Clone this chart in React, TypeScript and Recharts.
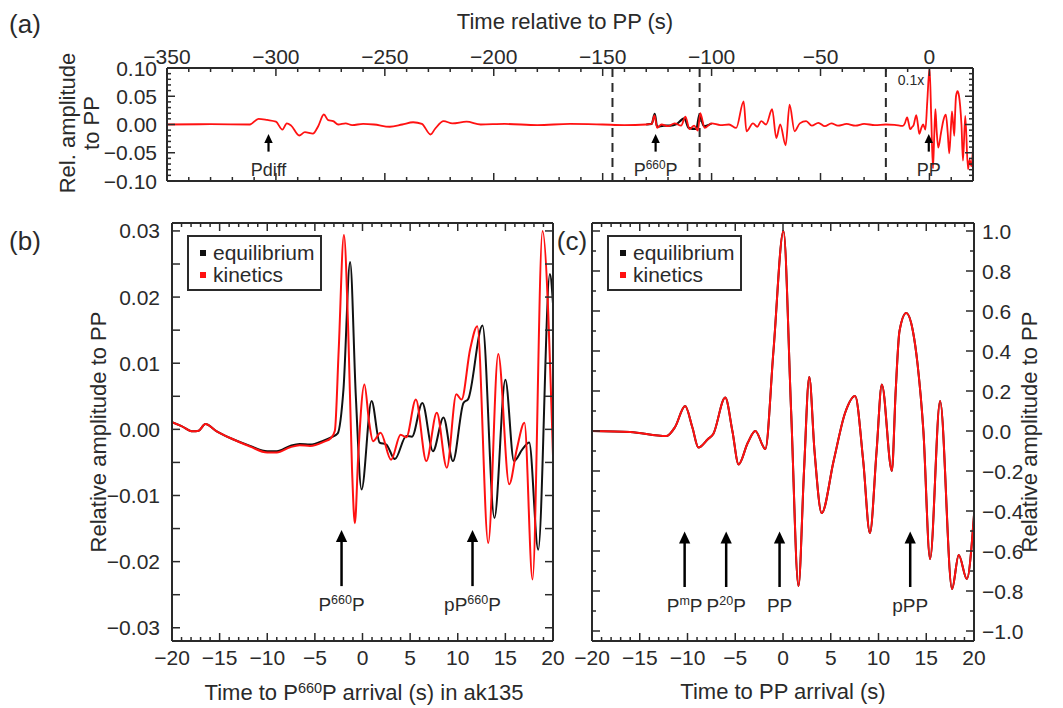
import React from 'react';
import { LineChart, Line, XAxis, YAxis, ReferenceLine } from 'recharts';

const FONT = '"Liberation Sans", Arial, Helvetica, sans-serif';
const INK = '#2a2a2a';
const RED = '#ff1111';
const BLACK = '#111111';

// ---------- Panel (a): full trace, time relative to PP (s) ----------
const aTime = [-350, -330, -312, -308, -304, -300, -297, -295, -293, -289.3, -286.7, -283, -280.6, -278, -276, -273.7, -271.4, -268, -265, -260, -255, -247.7, -242, -237, -233, -229, -227, -223, -219, -212.5, -206, -195, -180, -165, -150, -140, -130, -127.5, -126.2, -125, -123, -120, -117, -114, -112, -110.2, -108, -106.3, -105.2, -103.2, -100, -96, -92, -88.7, -85.3, -84, -81, -79, -77.2, -75, -72.2, -70.3, -68.5, -66, -64.2, -61.9, -59.5, -56.6, -54, -51, -48, -45, -42, -38, -34, -30, -25, -20];
const aKinetics = [0, 0.0005, 0, 0.01, 0.008, 0.005, -0.009, 0.002, -0.002, -0.0195, -0.0136, -0.016, -0.003, 0.0177, 0.0077, 0.006, 0, 0.002, -0.001, 0.001, 0, -0.004, 0, 0.004, 0.001, -0.0177, -0.008, 0.006, 0.002, 0.005, 0, 0.001, -0.001, 0.001, 0, -0.001, 0, 0.001, 0.016, -0.006, 0, -0.003, 0.002, -0.002, 0.014, -0.008, -0.002, -0.011, 0.02, -0.006, 0.002, -0.001, 0, -0.006, 0.041, -0.012, 0.002, -0.004, 0.006, 0, 0.027, -0.024, 0, -0.037, 0.035, -0.012, 0.002, 0.006, -0.002, 0.003, -0.003, 0.002, -0.002, 0.001, -0.002, 0.001, -0.001, 0];
const aEqTime = [-130, -127.5, -126.1, -125, -122, -119, -116, -112.5, -110.5, -107, -105.6, -103.5, -100];
const aEquilibrium = [0, 0.001, 0.019, -0.004, -0.002, -0.002, 0.001, 0.011, -0.006, -0.008, 0.017, -0.003, 0.002];
const aScaleLastWindow = 0.1; // "0.1x" window after -20 s
const aXTicks = [-350, -340, -330, -320, -310, -300, -290, -280, -270, -260, -250, -240, -230, -220, -210, -200, -190, -180, -170, -160, -150, -140, -130, -120, -110, -100, -90, -80, -70, -60, -50, -40, -30, -20, -10, 0, 10, 20];
const aYTicks = [-0.1, -0.09, -0.08, -0.07, -0.06, -0.05, -0.04, -0.03, -0.02, -0.01, 0, 0.01, 0.02, 0.03, 0.04, 0.05, 0.06, 0.07, 0.08, 0.09, 0.1];
const aDashed = [-145.5, -105.5, -20];
const aArrowTimes = [-303.4, -125.7, -0.3];

// ---------- Panel (b): around P660P ----------
const bKinTime = [-20, -19, -17.8, -17.2, -16.5, -15.3, -13.6, -11.8, -10, -9, -7.6, -6.6, -5.5, -4.1, -3.3, -2.9, -2.5, -1.95, -1.5, -1.1, -0.8, -0.45, 0.2, 0.7, 1.1, 1.9, 3.0, 4.0, 4.6, 5.6, 6.7, 7.8, 8.85, 9.85, 10.4, 11.3, 12.05, 13.2, 14.25, 15.4, 16.2, 17.0, 17.85, 18.9, 20];
const bKinetics = [0.0011, 0.0005, -0.0003, -0.0002, 0.0008, -0.0003, -0.0015, -0.0026, -0.0035, -0.0035, -0.0027, -0.0024, -0.0025, -0.0019, -0.0013, -0.0002, 0.012, 0.0294, 0.015, -0.006, -0.0142, -0.004, 0.0068, 0.001, -0.0018, -0.0005, -0.0046, -0.0008, -0.0012, 0.0045, -0.0048, 0.0025, -0.0058, 0.0053, 0.0045, 0.0121, 0.0156, -0.0172, 0.0114, -0.0083, -0.003, 0.001, -0.0227, 0.030, -0.004];
const bEqTime = [-20, -19, -17.8, -17.2, -16.5, -15.3, -13.6, -11.8, -10, -9, -7.6, -6.6, -5.5, -4.1, -3.3, -2.6, -2.0, -1.3, -0.7, -0.1, 0.95, 1.8, 2.5, 3.4, 4.6, 5.2, 6.28, 7.4, 8.5, 9.5, 10.6, 11.1, 12.6, 13.85, 15.0, 15.9, 16.8, 17.5, 18.45, 19.67, 20];
const bEquilibrium = [0.0011, 0.0005, -0.0003, -0.0002, 0.0008, -0.0003, -0.0015, -0.0025, -0.0033, -0.0033, -0.0025, -0.0022, -0.0023, -0.0017, -0.0012, -0.0006, 0.006, 0.0253, 0.005, -0.0091, 0.0043, -0.002, -0.0023, -0.0045, -0.001, -0.0011, 0.004, -0.0033, 0.0018, -0.0048, 0.004, 0.0046, 0.0157, -0.0134, 0.0075, -0.0048, -0.003, -0.002, -0.0182, 0.0235, 0.019];
const bYTicks = [-0.03, -0.025, -0.02, -0.015, -0.01, -0.005, 0, 0.005, 0.01, 0.015, 0.02, 0.025, 0.03];
const bArrowTimes = [-2.2, 11.55];

// ---------- Panel (c): around PP ----------
const cTime = [-20, -16, -12.2, -11.3, -10.25, -9.5, -8.85, -7.85, -7.3, -6.05, -5.3, -4.65, -3.7, -2.9, -1.85, -1.0, 0.05, 0.85, 1.62, 2.2, 2.75, 3.3, 4.05, 5.3, 6.5, 7.55, 8.4, 9.1, 9.8, 10.35, 11.4, 11.8, 12.2, 12.9, 13.6, 14.1, 14.7, 15.4, 16.45, 17.7, 18.4, 19.25, 20];
const cKinetics = [0, -0.005, -0.025, 0.02, 0.125, 0.02, -0.083, -0.04, -0.015, 0.167, 0, -0.167, -0.06, 0, -0.09, 0.4, 1.0, 0.1, -0.775, -0.2, 0.27, -0.1, -0.41, -0.15, 0.09, 0.175, -0.15, -0.51, -0.1, 0.233, -0.2, 0.2, 0.5, 0.59, 0.5, 0.33, 0, -0.64, 0.15, -0.79, -0.62, -0.74, -0.42];
const cEquilibrium = cKinetics; // overlaps exactly (hidden beneath red)
const cYTicks = [-1, -0.9, -0.8, -0.7, -0.6, -0.5, -0.4, -0.3, -0.2, -0.1, 0, 0.1, 0.2, 0.3, 0.4, 0.5, 0.6, 0.7, 0.8, 0.9, 1];
const cArrowTimes = [-10.3, -5.95, -0.36, 13.32];

const windowXTicks = [-20, -19, -18, -17, -16, -15, -14, -13, -12, -11, -10, -9, -8, -7, -6, -5, -4, -3, -2, -1, 0, 1, 2, 3, 4, 5, 6, 7, 8, 9, 10, 11, 12, 13, 14, 15, 16, 17, 18, 19, 20];

const rows = (ts: number[], vs: number[]) => ts.map((t, i) => ({ t, v: vs[i] }));
const aKinRows = [
  ...rows(aTime, aKinetics),
  ...rows(cTime, cKinetics).filter((r) => r.t > -20).map((r) => ({ t: r.t, v: r.v * aScaleLastWindow })),
];
const aEqRows = rows(aEqTime, aEquilibrium);
const bKinRows = rows(bKinTime, bKinetics);
const bEqRows = rows(bEqTime, bEquilibrium);
const cKinRows = rows(cTime, cKinetics);
const cEqRows = rows(cTime, cEquilibrium);

// ---------- helpers ----------
const fmt = (v: number, d: number) => (v < -1e-9 ? '\u2212' : '') + Math.abs(v).toFixed(d);

type Side = 'top' | 'bottom' | 'left' | 'right';
function makeTick(side: Side, step: number, labels: boolean, digits: number, gap: number, fontSize = 21, majorLen = 8, minorLen = 4) {
  return (props: any) => {
    const { x, y, payload } = props;
    const v = payload.value as number;
    const isMajor = Math.abs(v / step - Math.round(v / step)) < 1e-6;
    const len = isMajor ? majorLen : minorLen;
    let line: any = null;
    let text: any = null;
    const tp = { fontFamily: FONT, fontSize, fill: INK };
    if (side === 'bottom') {
      line = <line x1={x} y1={y} x2={x} y2={y - len} />;
      if (labels && isMajor) text = <text x={x} y={y + gap} textAnchor="middle" dominantBaseline="central" {...tp}>{fmt(v, digits)}</text>;
    } else if (side === 'top') {
      line = <line x1={x} y1={y} x2={x} y2={y + len} />;
      if (labels && isMajor) text = <text x={x} y={y - gap} textAnchor="middle" dominantBaseline="central" {...tp}>{fmt(v, digits)}</text>;
    } else if (side === 'left') {
      line = <line x1={x} y1={y} x2={x + len} y2={y} />;
      if (labels && isMajor) text = <text x={x - gap} y={y} textAnchor="end" dominantBaseline="central" {...tp}>{fmt(v, digits)}</text>;
    } else {
      line = <line x1={x} y1={y} x2={x - len} y2={y} />;
      if (labels && isMajor) text = <text x={x + gap} y={y} textAnchor="start" dominantBaseline="central" {...tp}>{fmt(v, digits)}</text>;
    }
    return (
      <g>
        <g stroke={INK} strokeWidth={1.5}>{line}</g>
        {text}
      </g>
    );
  };
}

type Part = { s: string; sup?: boolean };
function renderParts(parts: Part[], fs: number) {
  const out: any[] = [];
  let shifted = false;
  parts.forEach((p, i) => {
    if (p.sup) {
      out.push(<tspan key={i} dy={-0.38 * fs} fontSize={0.66 * fs}>{p.s}</tspan>);
      shifted = true;
    } else {
      out.push(<tspan key={i} dy={shifted ? 0.38 * fs : 0} fontSize={fs}>{p.s}</tspan>);
      shifted = false;
    }
  });
  return out;
}

function arrowShape(parts: Part[], fs: number, head: number, gap: number, shaft: number) {
  return (props: any) => {
    const { x1, y1, y2 } = props;
    const x = x1;
    const tip = Math.min(y1, y2);
    const tail = Math.max(y1, y2);
    const hw = head * 0.47;
    return (
      <g>
        <line x1={x} y1={tip + head * 0.8} x2={x} y2={tail} stroke="#000" strokeWidth={shaft} />
        <polygon points={`${x},${tip} ${x - hw},${tip + head} ${x + hw},${tip + head}`} fill="#000" />
        <text x={x} y={tail + gap} textAnchor="middle" fontFamily={FONT} fill={INK}>
          {renderParts(parts, fs)}
        </text>
      </g>
    );
  };
}

const axisLine = { stroke: INK, strokeWidth: 2 };
const common = { tickLine: false, tickSize: 0, tickMargin: 0, interval: 0 as const, allowDataOverflow: true, axisLine };

const aArrowLabels: Part[][] = [[{ s: 'Pdiff' }], [{ s: 'P' }, { s: '660', sup: true }, { s: 'P' }], [{ s: 'PP' }]];
const bArrowLabels: Part[][] = [[{ s: 'P' }, { s: '660', sup: true }, { s: 'P' }], [{ s: 'pP' }, { s: '660', sup: true }, { s: 'P' }]];
const cArrowLabels: Part[][] = [[{ s: 'P' }, { s: 'm', sup: true }, { s: 'P' }], [{ s: 'P' }, { s: '20', sup: true }, { s: 'P' }], [{ s: 'PP' }], [{ s: 'pPP' }]];

function LegendBox({ left, top }: { left: number; top: number }) {
  const item = (color: string, label: string, y: number) => (
    <div style={{ position: 'absolute', left: 0, top: y, height: 22, display: 'flex', alignItems: 'center' }}>
      <div style={{ width: 6, height: 6, background: color, marginLeft: 11, marginRight: 7 }} />
      <span style={{ fontSize: 21, lineHeight: '22px', color: INK }}>{label}</span>
    </div>
  );
  return (
    <div style={{ position: 'absolute', left, top, width: 135, height: 56, border: `2px solid ${INK}`, boxSizing: 'border-box', background: '#fff', fontFamily: FONT }}>
      {item(BLACK, 'equilibrium', 5)}
      {item(RED, 'kinetics', 27)}
    </div>
  );
}

const T = (props: { x: number; y: number; size: number; rot?: boolean; children: any }) => (
  <div
    style={{
      position: 'absolute', left: props.x, top: props.y, fontSize: props.size, lineHeight: 1, whiteSpace: 'nowrap',
      transform: `translate(-50%, -50%)${props.rot ? ' rotate(-90deg)' : ''}`, fontFamily: FONT, color: INK,
    }}
  >
    {props.children}
  </div>
);
const Sup = ({ children }: { children: any }) => (
  <span style={{ fontSize: '0.66em', position: 'relative', top: '-0.45em' }}>{children}</span>
);

export default function App() {
  return (
    <div style={{ position: 'absolute', left: 0, top: 0, width: 1063, height: 708, background: '#fff', overflow: 'hidden', fontFamily: FONT }}>
      {/* Panel (a) */}
      <div style={{ position: 'absolute', left: 0, top: 0 }}>
        <LineChart width={1063} height={200} margin={{ top: 38, left: 107, right: 85, bottom: 14 }}>
          <XAxis xAxisId="top" orientation="top" type="number" dataKey="t" domain={[-350, 20]} ticks={aXTicks} height={30} tick={makeTick('top', 50, true, 0, 12)} {...common} />
          <XAxis xAxisId="bot" orientation="bottom" type="number" dataKey="t" domain={[-350, 20]} ticks={aXTicks} height={5} tick={makeTick('bottom', 50, false, 0, 0)} {...common} />
          <YAxis yAxisId="l" orientation="left" type="number" domain={[-0.1, 0.1]} ticks={aYTicks} width={60} tick={makeTick('left', 0.05, true, 2, 10)} {...common} />
          <YAxis yAxisId="r" orientation="right" type="number" domain={[-0.1, 0.1]} ticks={aYTicks} width={5} tick={makeTick('right', 0.05, false, 2, 0)} {...common} />
          {aDashed.map((d) => (
            <ReferenceLine key={d} xAxisId="top" yAxisId="l" x={d} stroke={INK} strokeWidth={2} strokeDasharray="9 6" />
          ))}
          <Line xAxisId="top" yAxisId="l" data={aEqRows} dataKey="v" type="monotone" stroke={BLACK} strokeWidth={2.2} dot={false} isAnimationActive={false} />
          <Line xAxisId="top" yAxisId="l" data={aKinRows} dataKey="v" type="monotone" stroke={RED} strokeWidth={1.8} dot={false} isAnimationActive={false} />
          {aArrowTimes.map((t, i) => (
            <ReferenceLine key={'aa' + i} xAxisId="top" yAxisId="l" segment={[{ x: t, y: -0.017 }, { x: t, y: -0.048 }]} shape={arrowShape(aArrowLabels[i], 18, 9, 24, 2.2)} />
          ))}
        </LineChart>
      </div>

      {/* Panel (b) */}
      <div style={{ position: 'absolute', left: 0, top: 200 }}>
        <LineChart width={580} height={508} margin={{ top: 18, left: 102, right: 22, bottom: 27 }}>
          <XAxis xAxisId="bot" orientation="bottom" type="number" dataKey="t" domain={[-20, 20]} ticks={windowXTicks} height={40} tick={makeTick('bottom', 5, true, 0, 16)} {...common} />
          <XAxis xAxisId="top" orientation="top" type="number" dataKey="t" domain={[-20, 20]} ticks={windowXTicks} height={5} tick={makeTick('top', 5, false, 0, 0)} {...common} />
          <YAxis yAxisId="l" orientation="left" type="number" domain={[-0.032, 0.0312]} ticks={bYTicks} width={70} tick={makeTick('left', 0.01, true, 2, 12, 21, 8, 8)} {...common} />
          <YAxis yAxisId="r" orientation="right" type="number" domain={[-0.032, 0.0312]} ticks={bYTicks} width={5} tick={makeTick('right', 0.01, false, 2, 0, 21, 8, 8)} {...common} />
          <Line xAxisId="bot" yAxisId="l" data={bEqRows} dataKey="v" type="monotone" stroke={BLACK} strokeWidth={2} dot={false} isAnimationActive={false} />
          <Line xAxisId="bot" yAxisId="l" data={bKinRows} dataKey="v" type="monotone" stroke={RED} strokeWidth={2} dot={false} isAnimationActive={false} />
          {bArrowTimes.map((t, i) => (
            <ReferenceLine key={'ba' + i} xAxisId="bot" yAxisId="l" segment={[{ x: t, y: -0.0152 }, { x: t, y: -0.0237 }]} shape={arrowShape(bArrowLabels[i], 19, 12, 25, 2.5)} />
          ))}
        </LineChart>
      </div>

      {/* Panel (c) */}
      <div style={{ position: 'absolute', left: 560, top: 200 }}>
        <LineChart width={503} height={508} margin={{ top: 18, left: 27, right: 29, bottom: 27 }}>
          <XAxis xAxisId="bot" orientation="bottom" type="number" dataKey="t" domain={[-20, 20]} ticks={windowXTicks} height={40} tick={makeTick('bottom', 5, true, 0, 16)} {...common} />
          <XAxis xAxisId="top" orientation="top" type="number" dataKey="t" domain={[-20, 20]} ticks={windowXTicks} height={5} tick={makeTick('top', 5, false, 0, 0)} {...common} />
          <YAxis yAxisId="l" orientation="left" type="number" domain={[-1.05, 1.04]} ticks={cYTicks} width={5} tick={makeTick('left', 0.2, false, 1, 0)} {...common} />
          <YAxis yAxisId="r" orientation="right" type="number" domain={[-1.05, 1.04]} ticks={cYTicks} width={60} tick={makeTick('right', 0.2, true, 1, 8)} {...common} />
          <Line xAxisId="bot" yAxisId="l" data={cEqRows} dataKey="v" type="monotone" stroke={BLACK} strokeWidth={2} dot={false} isAnimationActive={false} />
          <Line xAxisId="bot" yAxisId="l" data={cKinRows} dataKey="v" type="monotone" stroke={RED} strokeWidth={2} dot={false} isAnimationActive={false} />
          {cArrowTimes.map((t, i) => (
            <ReferenceLine key={'ca' + i} xAxisId="bot" yAxisId="l" segment={[{ x: t, y: -0.503 }, { x: t, y: -0.78 }]} shape={arrowShape(cArrowLabels[i], 19, 12, 25, 2.5)} />
          ))}
        </LineChart>
      </div>

      {/* Legends */}
      <LegendBox left={187} top={235} />
      <LegendBox left={607} top={235} />

      {/* Text annotations */}
      <T x={25} y={24} size={26}>(a)</T>
      <T x={25} y={241} size={26}>(b)</T>
      <T x={572} y={241} size={26}>(c)</T>
      <T x={565} y={22} size={22}>Time relative to PP (s)</T>
      <T x={68} y={123} size={22} rot>Rel. amplitude</T>
      <T x={92} y={123} size={22} rot>to PP</T>
      <T x={911} y={80} size={14}>0.1x</T>
      <T x={99} y={432} size={22} rot>Relative amplitude to PP</T>
      <T x={1030} y={432} size={22} rot>Relative amplitude to PP</T>
      <T x={364} y={693} size={22}>Time to P<Sup>660</Sup>P arrival (s) in ak135</T>
      <T x={783} y={692} size={22}>Time to PP arrival (s)</T>
    </div>
  );
}
